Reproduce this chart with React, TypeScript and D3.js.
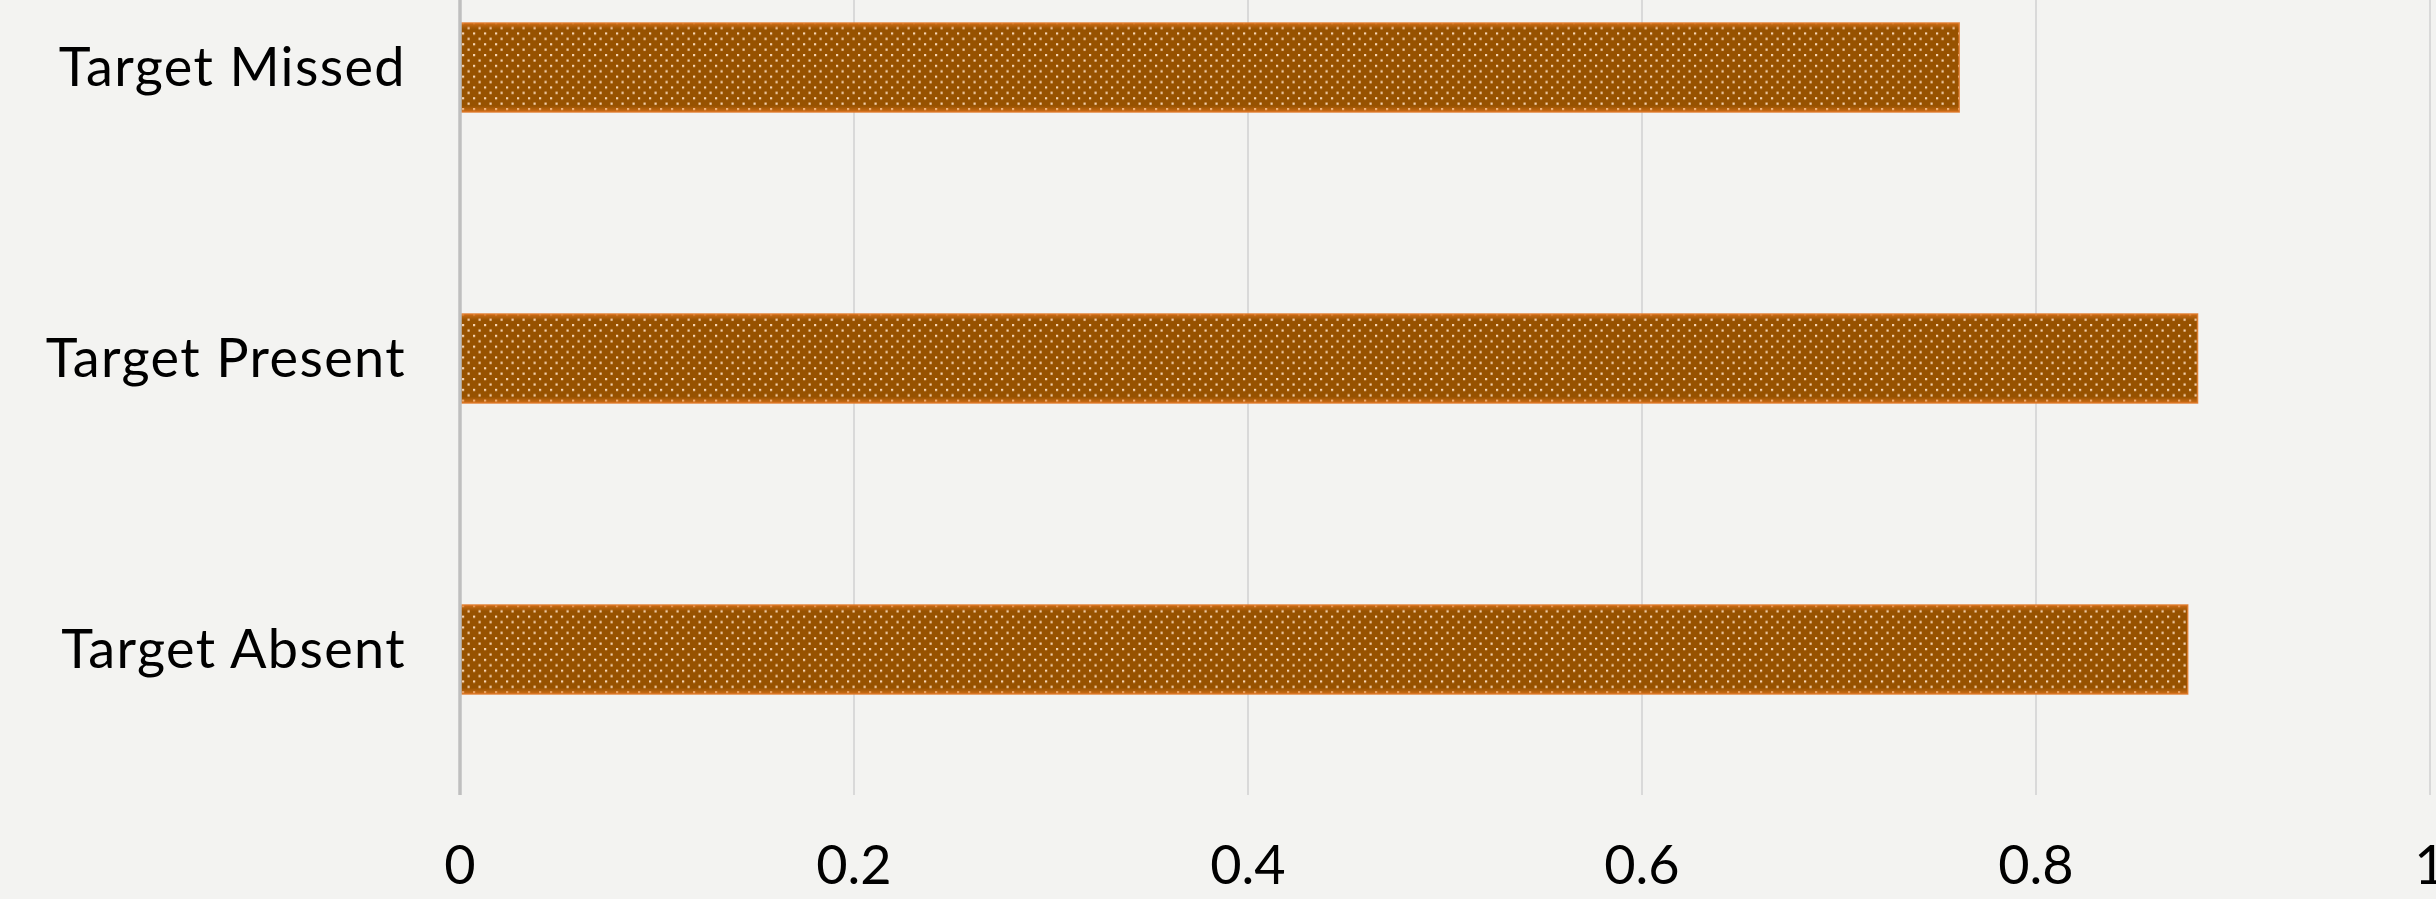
import React, { useEffect, useRef } from "react";
import * as d3 from "d3";

// Categories listed bottom-to-top, as in the source workbook.
const categories = ["Target Absent", "Target Present", "Target Missed"];
const values = [0.877, 0.882, 0.761];
const xTicks = [0, 0.2, 0.4, 0.6, 0.8, 1];

const WIDTH = 2436;
const HEIGHT = 899;
const FONT = "Lato, 'Open Sans', sans-serif";

export default function App() {
  const ref = useRef<SVGSVGElement | null>(null);

  useEffect(() => {
    const svg = d3.select(ref.current);
    svg.selectAll("*").remove();

    const plotLeft = 460;
    const plotRight = 2430;
    const plotTop = -78;
    const plotBottom = 795;

    const x = d3.scaleLinear().domain([0, 1]).range([plotLeft, plotRight]);
    const y = d3
      .scaleBand<string>()
      .domain(categories.slice().reverse())
      .range([plotTop, plotBottom])
      .paddingInner(0.694)
      .paddingOuter(0.347);

    svg.append("rect").attr("width", WIDTH).attr("height", HEIGHT).attr("fill", "#f3f3f1");

    const defs = svg.append("defs");
    const pat = defs
      .append("pattern")
      .attr("id", "dots")
      .attr("patternUnits", "userSpaceOnUse")
      .attr("width", 11)
      .attr("height", 10.8);
    pat.append("rect").attr("width", 11).attr("height", 10.8).attr("fill", "#975200");
    pat.append("rect").attr("x", 0).attr("y", 0).attr("width", 2.2).attr("height", 2.2).attr("fill", "#f6d4b2");
    pat.append("rect").attr("x", 5.5).attr("y", 5.4).attr("width", 2.2).attr("height", 2.2).attr("fill", "#f6d4b2");

    const edge = defs
      .append("linearGradient")
      .attr("id", "edgeShade")
      .attr("x1", 0)
      .attr("y1", 0)
      .attr("x2", 0)
      .attr("y2", 1);
    edge.append("stop").attr("offset", "0%").attr("stop-color", "#e0761e").attr("stop-opacity", 0.75);
    edge.append("stop").attr("offset", "7%").attr("stop-color", "#e0761e").attr("stop-opacity", 0);
    edge.append("stop").attr("offset", "93%").attr("stop-color", "#e0761e").attr("stop-opacity", 0);
    edge.append("stop").attr("offset", "100%").attr("stop-color", "#e0761e").attr("stop-opacity", 0.75);

    // vertical gridlines
    svg
      .append("g")
      .selectAll("line")
      .data(xTicks.slice(1))
      .join("line")
      .attr("x1", (d) => x(d))
      .attr("x2", (d) => x(d))
      .attr("y1", plotTop)
      .attr("y2", plotBottom)
      .attr("stroke", "#d9d9d9")
      .attr("stroke-width", 2);

    const bars = svg.append("g");
    categories.forEach((c, i) => {
      const y0 = y(c)!;
      const w = x(values[i]) - x(0);
      bars
        .append("rect")
        .attr("x", x(0))
        .attr("y", y0)
        .attr("width", w)
        .attr("height", y.bandwidth())
        .attr("fill", "url(#dots)");
      bars
        .append("rect")
        .attr("x", x(0))
        .attr("y", y0)
        .attr("width", w)
        .attr("height", y.bandwidth())
        .attr("fill", "url(#edgeShade)")
        .attr("stroke", "#e07a2a")
        .attr("stroke-opacity", 0.85)
        .attr("stroke-width", 1.5);
    });

    // value axis baseline
    svg
      .append("line")
      .attr("x1", x(0))
      .attr("x2", x(0))
      .attr("y1", plotTop)
      .attr("y2", plotBottom)
      .attr("stroke", "#bfbfbf")
      .attr("stroke-width", 3.5);

    // category labels
    svg
      .append("g")
      .selectAll("text")
      .data(categories)
      .join("text")
      .attr("x", 406)
      .attr("y", (d) => y(d)! + y.bandwidth() / 2)
      .attr("dy", "0.35em")
      .attr("text-anchor", "end")
      .attr("font-family", FONT)
      .attr("font-size", 54)
      .attr("letter-spacing", 1.4)
      .attr("fill", "#000")
      .text((d) => d);

    // value tick labels
    svg
      .append("g")
      .selectAll("text")
      .data(xTicks)
      .join("text")
      .attr("x", (d) => x(d))
      .attr("y", 884)
      .attr("text-anchor", "middle")
      .attr("font-family", FONT)
      .attr("font-size", 54)
      .attr("fill", "#000")
      .text((d) => d3.format("~g")(d));
  }, []);

  return (
    <svg
      ref={ref}
      width={WIDTH}
      height={HEIGHT}
      style={{ position: "absolute", left: 0, top: 0, display: "block" }}
    />
  );
}
